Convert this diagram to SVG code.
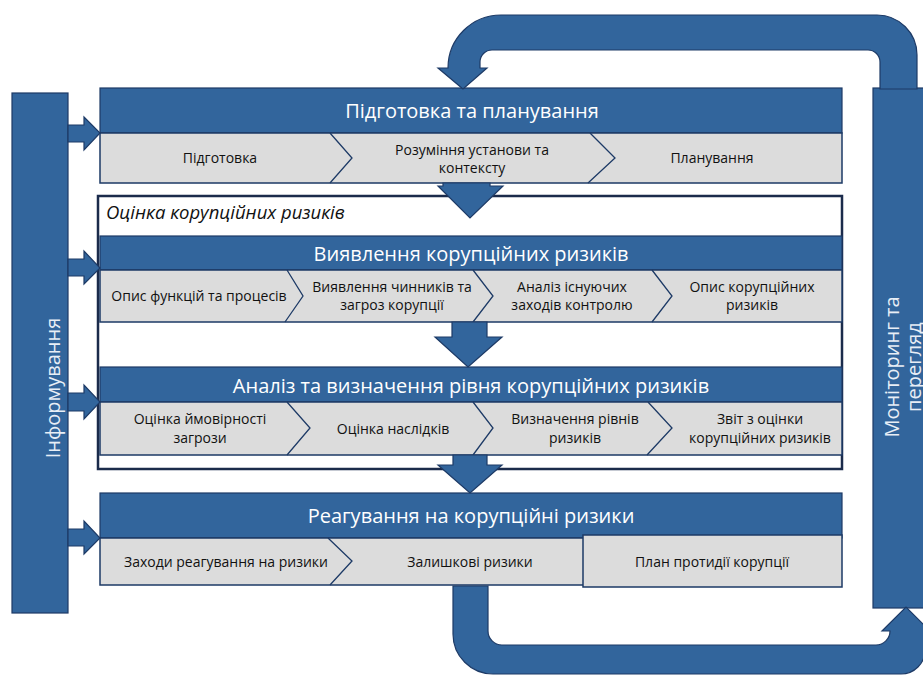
<svg xmlns="http://www.w3.org/2000/svg" width="923" height="675" viewBox="0 0 923 675">
<defs>
<style>
.blue{fill:#32659c;stroke:#1d3a66;stroke-width:1.2}
.row{fill:#dcdcdc;stroke:#1d3a66;stroke-width:1.5}
.chev{fill:none;stroke:#1d3a66;stroke-width:1.3}
.hd{font-family:"Open Sans","Noto Sans",sans-serif;font-size:20px;fill:#ffffff;text-anchor:middle}
.tx{font-family:"Open Sans","Noto Sans",sans-serif;font-size:14px;fill:#111111;text-anchor:middle}
.side{font-family:"Open Sans","Noto Sans",sans-serif;font-size:20px;fill:#e8eef6;text-anchor:middle}
</style>
</defs>
<rect width="923" height="675" fill="#ffffff"/>

<g id="informuvannia">
<rect class="blue" x="12" y="93" width="56" height="520"/>
<text class="side" transform="translate(60 388) rotate(-90)">Інформування</text>
</g>

<g id="monitoring">
<rect class="blue" x="873" y="88" width="52" height="520"/>
<text class="side" transform="translate(899 367) rotate(-90)">Моніторинг та</text>
<text class="side" transform="translate(921 367) rotate(-90)">перегляд</text>
</g>

<g id="frame-assessment">
<rect x="98" y="196" width="744" height="273" fill="#ffffff" stroke="#1b2b4b" stroke-width="2.5"/>
<text x="106" y="219" font-family="'Open Sans','Noto Sans',sans-serif" font-size="18.5" font-style="italic" fill="#111111">Оцінка корупційних ризиків</text>
</g>

<g id="band1">
<rect class="blue" x="100" y="88" width="742" height="45"/>
<text class="hd" x="472" y="118">Підготовка та планування</text>
<rect class="row" x="100" y="133" width="742" height="50"/>
<polyline class="chev" points="330,133 352,158 330,183"/>
<polyline class="chev" points="590,133 615,158 588,183"/>
<text class="tx" x="220" y="163">Підготовка</text>
<text class="tx" x="472" y="155">Розуміння установи та</text>
<text class="tx" x="472" y="173">контексту</text>
<text class="tx" x="712" y="163">Планування</text>
</g>

<g id="band2">
<rect class="blue" x="100" y="236" width="742" height="34"/>
<text class="hd" x="471" y="261">Виявлення корупційних ризиків</text>
<rect class="row" x="100" y="270" width="742" height="52"/>
<polyline class="chev" points="287,270 303,296 285,322"/>
<polyline class="chev" points="473,270 493,296 473,322"/>
<polyline class="chev" points="652,270 672,296 652,322"/>
<text class="tx" x="199" y="301">Опис функцій та процесів</text>
<text class="tx" x="392" y="292">Виявлення чинників та</text>
<text class="tx" x="392" y="310">загроз корупції</text>
<text class="tx" x="572" y="292">Аналіз існуючих</text>
<text class="tx" x="572" y="310">заходів контролю</text>
<text class="tx" x="752" y="292">Опис корупційних</text>
<text class="tx" x="752" y="310">ризиків</text>
</g>

<g id="band3">
<rect class="blue" x="100" y="367" width="742" height="35"/>
<text class="hd" x="471" y="393">Аналіз та визначення рівня корупційних ризиків</text>
<rect class="row" x="100" y="402" width="742" height="53"/>
<polyline class="chev" points="287,402 310,428 287,455"/>
<polyline class="chev" points="473,402 493,428 473,455"/>
<polyline class="chev" points="648,402 672,428 647,455"/>
<text class="tx" x="200" y="424">Оцінка ймовірності</text>
<text class="tx" x="200" y="443">загрози</text>
<text class="tx" x="393" y="434">Оцінка наслідків</text>
<text class="tx" x="575" y="424">Визначення рівнів</text>
<text class="tx" x="575" y="443">ризиків</text>
<text class="tx" x="760" y="424">Звіт з оцінки</text>
<text class="tx" x="760" y="443">корупційних ризиків</text>
</g>

<g id="band4">
<rect class="blue" x="100" y="493" width="742" height="45"/>
<text class="hd" x="471" y="523">Реагування на корупційні ризики</text>
<rect class="row" x="100" y="538" width="484" height="47"/>
<polyline class="chev" points="328,538 352,561 330,585"/>
<rect class="row" x="583" y="535" width="259" height="52"/>
<text class="tx" x="226" y="567">Заходи реагування на ризики</text>
<text class="tx" x="470" y="567">Залишкові ризики</text>
<text class="tx" x="712" y="567">План протидії корупції</text>
</g>

<g id="connectors">
<path class="blue" d="M463 89 L438 68 L448 68 A53 53 0 0 1 501 15 L877 15 A40 40 0 0 1 917 55 L917 89 L880 89 L880 62 A12 12 0 0 0 868 50 L492 50 A12 12 0 0 0 480 62 L480 68 L487 68 Z"/>
<path class="blue" d="M453 586 L488 586 L488 631 A14 14 0 0 0 502 645 L876 645 A14 14 0 0 0 890 631 L882 631 L906 607 L930 631 L925 631 L925 650 A24 24 0 0 1 901 674 L493 674 A40 40 0 0 1 453 634 Z"/>
<polygon class="blue" points="68,125 84,125 84,117 100,133 84,150 84,142 68,142"/>
<polygon class="blue" points="68,259 84,259 84,251 100,268 84,284 84,276 68,276"/>
<polygon class="blue" points="68,393 84,393 84,385 100,402 84,419 84,411 68,411"/>
<polygon class="blue" points="68,529 84,529 84,521 100,538 84,554 84,546 68,546"/>
<polygon class="blue" points="443,183 490,183 490,186 503,186 470,218 438,186 443,186"/>
<polygon class="blue" points="452,322 487,322 487,337 502,337 468,367 435,337 452,337"/>
<polygon class="blue" points="453,455 487,455 487,465 502,465 470,493 438,465 453,465"/>
</g>
</svg>
